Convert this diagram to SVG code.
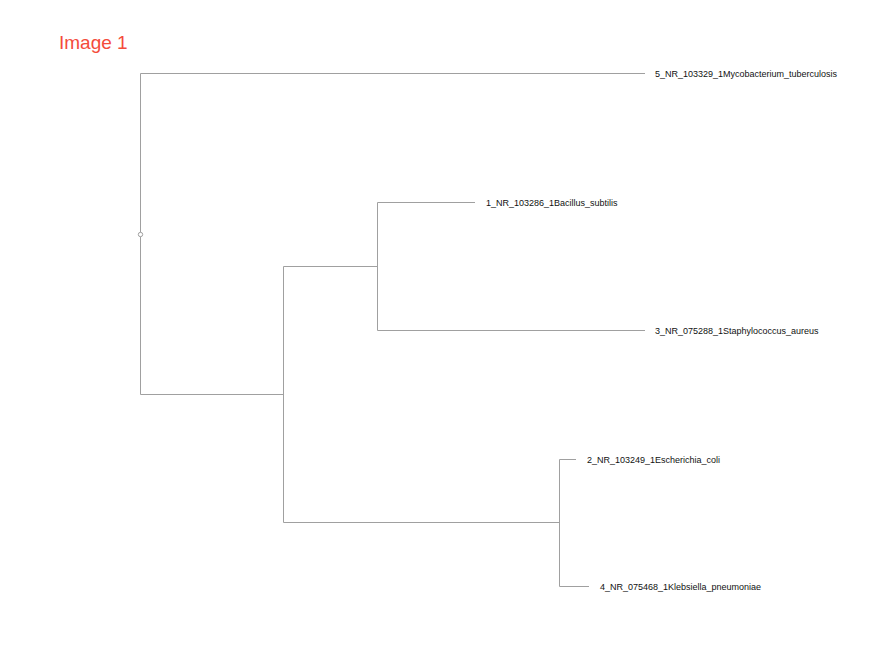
<svg xmlns="http://www.w3.org/2000/svg" width="870" height="661" viewBox="0 0 870 661">
<style>
.br{fill:none;stroke:#a0a0a0;stroke-width:1}
.lb{font-family:"Liberation Sans",Arial,sans-serif;font-size:9px;fill:#111}
.title{font-family:"Liberation Sans",Arial,sans-serif;font-size:19px;fill:#f44b3b}
</style>
<rect width="870" height="661" fill="#fff"/>
<text class="title" x="59" y="49">Image 1</text>
<g id="connectors">
<path class="br" d="M140.5,394.5 V73.5 H645"/>
<path class="br" d="M140.5,394.5 H283.5"/>
<path class="br" d="M283.5,266.5 V522.5"/>
<path class="br" d="M283.5,266.5 H377.5"/>
<path class="br" d="M377.5,202.5 V330.5"/>
<path class="br" d="M377.5,202.5 H475"/>
<path class="br" d="M377.5,330.5 H645"/>
<path class="br" d="M283.5,522.5 H559.5"/>
<path class="br" d="M559.5,459.5 V586.5"/>
<path class="br" d="M559.5,459.5 H576"/>
<path class="br" d="M559.5,586.5 H589"/>
<circle cx="140.5" cy="234.5" r="2.2" fill="#fff" stroke="#a0a0a0" stroke-width="1"/>
</g>
<g id="n5"><text class="lb" x="655" y="76.5">5_NR_103329_1Mycobacterium_tuberculosis</text></g>
<g id="n1"><text class="lb" x="486" y="205.5">1_NR_103286_1Bacillus_subtilis</text></g>
<g id="n3"><text class="lb" x="655" y="333.5">3_NR_075288_1Staphylococcus_aureus</text></g>
<g id="n2"><text class="lb" x="587" y="462.5">2_NR_103249_1Escherichia_coli</text></g>
<g id="n4"><text class="lb" x="600" y="589.5">4_NR_075468_1Klebsiella_pneumoniae</text></g>
</svg>
